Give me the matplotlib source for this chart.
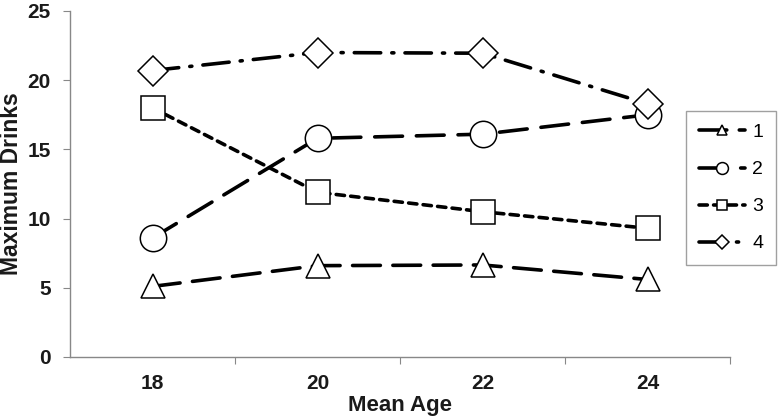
import matplotlib
matplotlib.use("Agg")
import matplotlib.pyplot as plt
from matplotlib.ticker import FixedLocator

plt.rcParams['font.family'] = ['Liberation Sans', 'DejaVu Sans']
plt.rcParams['lines.scale_dashes'] = False

ages = ["18", "20", "22", "24"]
series_names = ["1", "2", "3", "4"]
s1 = [5.1, 6.6, 6.65, 5.6]
s2 = [8.6, 15.8, 16.1, 17.5]
s3 = [18.0, 11.9, 10.5, 9.3]
s4 = [20.7, 22.0, 21.95, 18.3]
y_ticks = [0, 5, 10, 15, 20, 25]

W, H = 782, 417
fig = plt.figure(figsize=(W / 100, H / 100), dpi=100)
ax = fig.add_axes([70 / W, (H - 357) / H, (730 - 70) / W, (357 - 11) / H])

x = list(range(len(ages)))
lw = 2.6
styles = [
    dict(marker='^', ms=17, dashes=(20, 9)),
    dict(marker='o', ms=19, dashes=(20, 10)),
    dict(marker='s', ms=17, dashes=(6, 4.5)),
    dict(marker='D', ms=15, dashes=(19, 8, 1.5, 8)),
]
data = [s1, s2, s3, s4]
for name, vals, st in zip(series_names, data, styles):
    ax.plot(x, vals, color='black', lw=lw, linestyle='--', dashes=st['dashes'],
            marker=st['marker'], ms=st['ms'], mfc='white', mec='black', mew=1.1,
            label=name, solid_capstyle='round', dash_capstyle='round', zorder=3)

ax.set_xlim(-0.5, len(ages) - 0.5)
ax.set_ylim(0, 25)
ax.set_yticks(y_ticks)
ax.xaxis.set_major_locator(FixedLocator([i + 0.5 for i in range(len(ages))]))
ax.xaxis.set_major_formatter(plt.NullFormatter())
ax.xaxis.set_minor_locator(FixedLocator(x))
ax.set_xticklabels(ages, minor=True)
ax.tick_params(axis='x', which='minor', length=0, pad=12.5, labelsize=15)
ax.tick_params(axis='x', which='major', length=5, direction='out', color='#888888')
ax.tick_params(axis='y', length=5, direction='out', color='#888888', labelsize=15, pad=9)
for lab in ax.get_xticklabels(minor=True) + ax.get_yticklabels():
    lab.set_fontweight('bold')
    lab.set_color('#1a1a1a')

for s in ['top', 'right']:
    ax.spines[s].set_visible(False)
for s in ['left', 'bottom']:
    ax.spines[s].set_color('#888888')
    ax.spines[s].set_linewidth(1.0)

ax.set_xlabel('Mean Age', fontsize=16, fontweight='bold', labelpad=1, color='#1a1a1a')
ax.set_ylabel('Maximum Drinks', fontsize=16.5, fontweight='bold', color='#1a1a1a')
ax.yaxis.set_label_coords(-(70 - 23) / (730 - 70), 0.5)

leg = fig.legend(loc='upper left', bbox_to_anchor=(686 / W, (H - 111) / H),
                 fontsize=14, frameon=True, fancybox=False, edgecolor='#888888',
                 markerscale=0.45, handlelength=2.4, handletextpad=0.35,
                 labelspacing=1.0, borderpad=0.65, borderaxespad=0)
leg.get_frame().set_linewidth(1.0)

fig.savefig('out.png', dpi=100)
